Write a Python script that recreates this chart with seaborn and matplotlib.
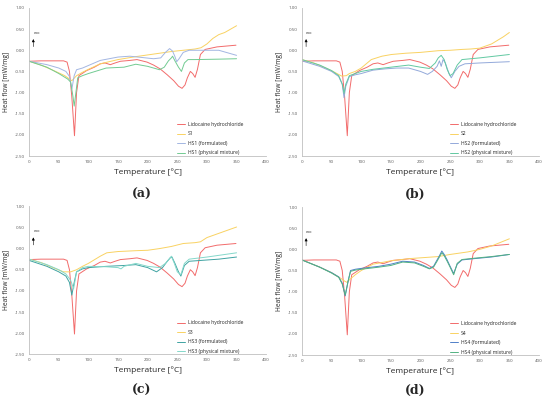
import numpy as np
import pandas as pd
import matplotlib
matplotlib.use("Agg")
import matplotlib.pyplot as plt
import seaborn as sns

# Lidocaine hydrochloride (same curve in all four panels)
lido_t = [0, 20, 40, 58, 64, 68, 72, 76.5, 80, 84, 97, 110, 120, 128, 137, 145, 154, 170, 182, 199,
          210, 221, 233, 244, 252, 258, 263, 267, 272, 276, 280, 284, 289, 297, 317, 349]
lido_h = [-0.26, -0.25, -0.25, -0.25, -0.28, -0.5, -1.1, -2.02, -1.0, -0.6, -0.48, -0.4, -0.32, -0.3,
          -0.34, -0.3, -0.26, -0.24, -0.22, -0.28, -0.35, -0.44, -0.58, -0.72, -0.85, -0.9, -0.82,
          -0.65, -0.5, -0.55, -0.64, -0.45, -0.1, 0.02, 0.08, 0.12]

# panel (a)
s1_t = [0, 20, 40, 60, 68, 72, 76, 80, 90, 100, 120, 150, 180, 200, 220, 240, 260, 280, 290, 300,
        310, 320, 330, 340, 350]
s1_h = [-0.26, -0.35, -0.47, -0.6, -0.68, -0.72, -0.66, -0.6, -0.52, -0.45, -0.32, -0.22, -0.15,
        -0.11, -0.07, -0.03, 0.0, 0.03, 0.06, 0.15, 0.28, 0.37, 0.42, 0.5, 0.58]
hs1f_t = [0, 30, 50, 62, 68, 72, 76, 80, 90, 100, 120, 150, 170, 190, 210, 222, 230, 237, 242, 246,
          249, 253, 260, 270, 290, 320, 350]
hs1f_h = [-0.26, -0.34, -0.42, -0.5, -0.62, -0.92, -0.6, -0.46, -0.42, -0.36, -0.24, -0.16, -0.14,
          -0.17, -0.2, -0.18, -0.05, 0.04, -0.02, -0.15, -0.27, -0.2, -0.05, 0.0, 0.0, 0.0, -0.12]
hs1p_t = [0, 30, 50, 65, 70, 74, 76, 78, 82, 90, 100, 130, 160, 180, 200, 220, 228, 235, 240, 242,
          246, 252, 257, 262, 268, 280, 320, 350]
hs1p_h = [-0.26, -0.4, -0.55, -0.68, -0.75, -1.1, -1.32, -1.1, -0.65, -0.6, -0.55, -0.42, -0.4,
          -0.33, -0.38, -0.46, -0.4, -0.25, -0.18, -0.14, -0.25, -0.4, -0.5, -0.3, -0.22, -0.22,
          -0.21, -0.2]

# panel (b)
s2_t = [0, 20, 40, 55, 67, 75, 80, 90, 100, 117, 135, 151, 175, 200, 230, 250, 270, 285, 300, 320,
        340, 350]
s2_h = [-0.22, -0.3, -0.42, -0.52, -0.61, -0.6, -0.55, -0.5, -0.42, -0.22, -0.14, -0.1, -0.07,
        -0.05, -0.01, 0.0, 0.02, 0.03, 0.05, 0.15, 0.32, 0.42]
hs2f_t = [0, 30, 50, 62, 68, 71, 74, 80, 90, 100, 120, 140, 160, 180, 200, 212, 220, 228, 232, 235,
          238, 242, 248, 252, 258, 265, 275, 300, 350]
hs2f_h = [-0.25, -0.38, -0.5, -0.62, -0.8, -1.12, -0.85, -0.62, -0.58, -0.55, -0.47, -0.44, -0.42,
          -0.42, -0.5, -0.57, -0.5, -0.38, -0.25, -0.38, -0.22, -0.3, -0.55, -0.65, -0.5, -0.38,
          -0.32, -0.3, -0.27]
hs2p_t = [0, 30, 50, 62, 68, 71, 74, 80, 90, 100, 120, 150, 180, 200, 215, 225, 230, 235, 240, 245,
          250, 255, 262, 270, 300, 350]
hs2p_h = [-0.22, -0.35, -0.48, -0.6, -0.8, -1.02, -0.8, -0.6, -0.55, -0.5, -0.45, -0.4, -0.35,
          -0.4, -0.43, -0.3, -0.18, -0.12, -0.22, -0.45, -0.6, -0.55, -0.35, -0.22, -0.18, -0.1]

# panel (c)
s3_t = [0, 20, 40, 58, 70, 80, 90, 100, 120, 131, 150, 180, 200, 220, 240, 260, 280, 289, 300, 320,
        350]
s3_h = [-0.25, -0.33, -0.45, -0.55, -0.55, -0.5, -0.42, -0.35, -0.18, -0.1, -0.07, -0.05, -0.04,
        0.0, 0.05, 0.12, 0.14, 0.16, 0.26, 0.36, 0.51]
hs3f_t = [0, 30, 50, 62, 68, 72, 76, 80, 90, 100, 130, 160, 180, 200, 215, 225, 232, 238, 241, 246,
          252, 256, 262, 270, 290, 320, 350]
hs3f_h = [-0.28, -0.42, -0.55, -0.65, -0.8, -1.1, -0.8, -0.55, -0.48, -0.45, -0.42, -0.4, -0.38,
          -0.45, -0.55, -0.45, -0.32, -0.22, -0.2, -0.35, -0.55, -0.65, -0.4, -0.3, -0.28, -0.25,
          -0.2]
hs3p_t = [0, 30, 50, 62, 70, 75, 80, 90, 100, 130, 150, 155, 160, 180, 200, 220, 230, 236, 240, 245,
          250, 256, 262, 270, 300, 350]
hs3p_h = [-0.25, -0.38, -0.5, -0.6, -0.75, -0.95, -0.55, -0.45, -0.42, -0.43, -0.45, -0.48, -0.42,
          -0.35, -0.42, -0.45, -0.35, -0.25, -0.18, -0.35, -0.55, -0.62, -0.35, -0.25, -0.2, -0.1]

# panel (d)
s4_t = [0, 30, 50, 65, 72, 76, 80, 90, 100, 120, 150, 180, 200, 230, 250, 280, 300, 320, 350]
s4_h = [-0.25, -0.42, -0.55, -0.68, -0.75, -0.78, -0.72, -0.6, -0.5, -0.35, -0.27, -0.22, -0.2,
        -0.17, -0.12, -0.06, 0.0, 0.08, 0.25]
hs4_t = [0, 30, 50, 62, 68, 73, 78, 82, 90, 100, 130, 150, 170, 190, 205, 215, 222, 228, 232, 236,
         240, 245, 250, 256, 262, 270, 290, 320, 350]
hs4f_h = [-0.25, -0.42, -0.55, -0.65, -0.8, -1.1, -0.75, -0.5, -0.47, -0.45, -0.4, -0.35, -0.28,
          -0.3, -0.38, -0.45, -0.4, -0.25, -0.15, -0.04, -0.12, -0.25, -0.4, -0.57, -0.35, -0.25,
          -0.22, -0.18, -0.12]
hs4p_h = [-0.25, -0.42, -0.56, -0.66, -0.82, -1.08, -0.74, -0.52, -0.49, -0.47, -0.42, -0.38, -0.3,
          -0.32, -0.4, -0.46, -0.42, -0.28, -0.18, -0.08, -0.15, -0.28, -0.42, -0.6, -0.33, -0.24,
          -0.21, -0.17, -0.12]

RED, YEL = "#f26b6b", "#f9d262"

panels = [
    ("(a)", [0.053, 0.609], 0.513, [("S1", s1_t, s1_h, YEL),
                                    ("HS1 (formulated)", hs1f_t, hs1f_h, "#a3b6e2"),
                                    ("HS1 (physical mixture)", hs1p_t, hs1p_h, "#72cb92")]),
    ("(b)", [0.549, 0.609], 0.513, [("S2", s2_t, s2_h, YEL),
                                    ("HS2 (formulated)", hs2f_t, hs2f_h, "#93a9da"),
                                    ("HS2 (physical mixture)", hs2p_t, hs2p_h, "#62c9a2")]),
    ("(c)", [0.053, 0.112], 0.022, [("S3", s3_t, s3_h, YEL),
                                    ("HS3 (formulated)", hs3f_t, hs3f_h, "#3fa3a2"),
                                    ("HS3 (physical mixture)", hs3p_t, hs3p_h, "#84d8ca")]),
    ("(d)", [0.549, 0.110], 0.022, [("S4", s4_t, s4_h, YEL),
                                    ("HS4 (formulated)", hs4_t, hs4f_h, "#5080c8"),
                                    ("HS4 (physical mixture)", hs4_t, hs4p_h, "#52b282")]),
]

sns.set_style("white")
plt.rcParams['font.family'] = ['Open Sans', 'DejaVu Sans']

fig = plt.figure(figsize=(5.5, 3.99), dpi=100)

for tag, (left, bottom), cap_y, series in panels:
    ax = fig.add_axes([left, bottom, 0.431, 0.371])
    sns.lineplot(x=lido_t, y=lido_h, ax=ax, color=RED, lw=0.7, sort=False,
                 label="Lidocaine hydrochloride")
    for name, t, h, col in series:
        sns.lineplot(x=t, y=h, ax=ax, color=col, lw=0.7, sort=False, label=name)
    ax.set_xlim(0, 400)
    ax.set_ylim(-2.5, 1.0)
    ax.set_xticks(np.arange(0, 401, 50))
    ax.set_yticks(np.arange(-2.5, 1.01, 0.5))
    ax.set_yticklabels([f"{v:.2f}" for v in np.arange(-2.5, 1.01, 0.5)])
    ax.tick_params(labelsize=3.2, length=1.5, width=0.5, colors="#595959", pad=1.5)
    for s in ["top", "right"]:
        ax.spines[s].set_visible(False)
    for s in ["left", "bottom"]:
        ax.spines[s].set_color("#bfbfbf")
        ax.spines[s].set_linewidth(0.6)
    ax.set_xlabel("Temperature [°C]", fontsize=6, labelpad=3)
    ax.set_ylabel("Heat flow [mW/mg]", fontsize=4.8, labelpad=3)
    ax.annotate("", xy=(7, 0.33), xytext=(7, 0.02),
                arrowprops=dict(arrowstyle="-|>", color="black", lw=0.4, mutation_scale=4))
    ax.text(7, 0.36, "exo", fontsize=2.8, ha="left", va="bottom")
    ax.legend(loc="lower left", bbox_to_anchor=(0.61, -0.02), fontsize=3.6, frameon=False,
              handlelength=1.6, handletextpad=0.5, labelspacing=0.9, borderpad=0.2)
    fig.text(left + 0.205, cap_y, tag, fontsize=9, fontweight="bold",
             family="DejaVu Serif", ha="center", va="center")

fig.savefig("out.png", dpi=100)
